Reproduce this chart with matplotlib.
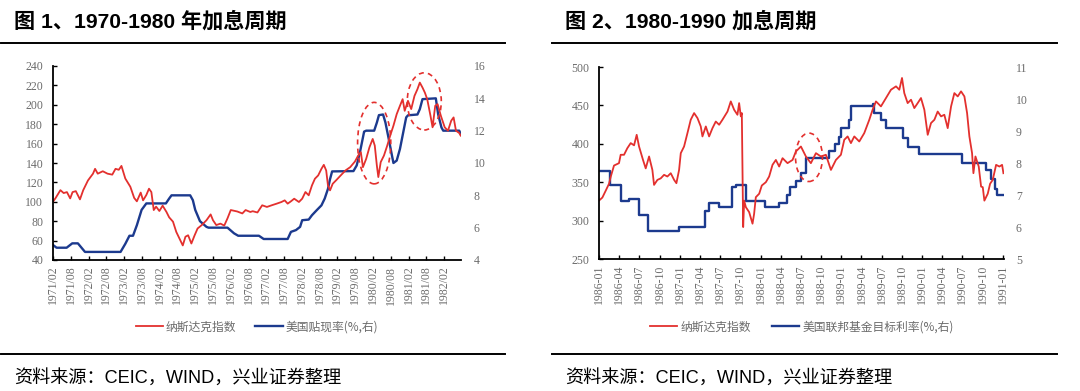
import matplotlib
matplotlib.use("Agg")
import matplotlib.pyplot as plt
from matplotlib.patches import Ellipse
from matplotlib.lines import Line2D

# ---------------- data: chart 1 (1971/02 - 1982/07), x = months since 1971/02 ----------------
c1_tick_labels = ["1971/02", "1971/08", "1972/02", "1972/08", "1973/02", "1973/08",
                  "1974/02", "1974/08", "1975/02", "1975/08", "1976/02", "1976/08",
                  "1977/02", "1977/08", "1978/02", "1978/08", "1979/02", "1979/08",
                  "1980/02", "1980/08", "1981/02", "1981/08", "1982/02"]
c1_tick_months = [0, 6, 12, 18, 24, 30, 36, 42, 48, 54, 60, 66, 72, 78, 84, 90,
                  96, 102, 108, 114, 120, 126, 132]

c1_nasdaq_m = [0, 0.9, 2.5, 3.6, 4.7, 5.8, 6.6, 7.7, 9.1, 10.2, 11.8, 13.5, 14.2, 15.1,
               16.8, 18.4, 20, 21.1, 22.2, 23.1, 24.4, 26.1, 27.4, 28.3, 29.6, 30.4,
               31.5, 32.4, 33.2, 34, 34.8, 35.9, 37, 38.3, 39.2, 40.5, 41.6, 42.7, 43.8,
               44.7, 45.6, 46.7, 47.8, 48.8, 50.2, 51.8, 53.2, 54, 55.1, 56.5, 57.8,
               58.9, 60, 62.2, 63.9, 65, 66.6, 67.4, 69, 70.6, 72.2, 73.8, 75.5, 77.1,
               78.2, 79.2, 80.3, 81.4, 83, 84.1, 85.2, 86.3, 87.4, 88.4, 89.5, 90.6,
               91.4, 92.2, 92.8, 93.5, 94.4, 95.5, 97.1, 98.7, 100.3, 101.9, 103, 103.9,
               104.6, 105.7, 106.8, 107.9, 108.6, 109.3, 109.8, 110.6, 111.7, 112.8,
               113.8, 114.9, 116, 117.1, 118, 118.7, 119.8, 120.9, 122, 123, 123.8,
               124.7, 125.5, 126.3, 127.4, 128.1, 129, 129.8, 130.9, 132.2, 133.3,
               134.4, 135.2, 136, 137.1, 137.6]
c1_nasdaq_v = [100, 104, 112, 109, 110, 103.5, 110, 111, 102.5, 112, 122, 129, 134, 129,
               131.5, 129, 128, 134, 133, 137, 124, 115.5, 104, 100.5, 109.5, 101.5,
               107, 113.5, 110, 91.5, 95, 90.5, 96, 89.5, 84, 79.5, 69, 62, 55,
               64, 65.5, 57, 65.5, 72.5, 76, 81, 87, 81, 76, 77.5, 75.5,
               83, 91.5, 90, 88, 91.5, 89.5, 90.3, 89, 96.4, 94.7, 96.4, 98.1, 99.8,
               101.5, 98.1, 100.5, 103.2, 99.8, 103.2, 110.1, 106.7, 116.9, 123.8, 127.2, 134,
               138.1, 132.3, 116.9, 111.8, 118.6, 122, 127.2, 132.3, 135.7, 141.5, 147.7, 151.1,
               135.7, 144.3, 156.2, 164.8, 157.9, 137.4, 125.5, 140.9, 147.7, 157.9,
               168.2, 178.5, 190.4, 199, 205.8, 193.8, 204.1, 195.6, 209.2, 216.1, 222.9,
               217.8, 212.6, 205.8, 188.7, 176.8, 199, 200.7, 188.7, 176.8, 173.3,
               183.6, 187, 173.3, 170.9, 168.2]

c1_rate_m = [0, 1.2, 4.6, 6.5, 8.4, 10.8, 22.8, 24.4, 25.8, 27.0, 28.3, 29.9, 31.5, 38.1,
             39.2, 40.0, 46.3, 47.2, 48.0, 49.6, 51.8, 52.5, 58.9, 61.1, 62.5, 69.5, 71.1,
             79.2, 80.3, 82, 83.4, 84.1, 86.3, 87.4, 89, 90.6, 91.7, 92.8, 93.5, 94.2,
             101.4, 102.5, 103.6, 105, 105.7, 108.4, 109.3, 110, 111.4, 112.2, 113.3,
             114.4, 114.9, 116, 117.1, 118.1, 119.2, 119.8, 123, 123.8, 124.7, 129.2,
             130, 131.1, 131.7, 137.1, 137.6]
c1_rate_v = [4.93, 4.76, 4.76, 5.03, 5.03, 4.5, 4.5, 5.0, 5.5, 5.5, 6.15, 7.1, 7.5, 7.5,
             7.8, 8.0, 8.0, 7.7, 7.1, 6.4, 6.05, 6.0, 6.0, 5.65, 5.5, 5.5, 5.3,
             5.3, 5.74, 5.85, 6.05, 6.46, 6.5, 6.77, 7.08, 7.38, 7.8, 8.4, 9.0, 9.48,
             9.5, 9.85, 10.67, 11.94, 12.0, 12.0, 12.5, 12.96, 13.0, 12.5, 11.5,
             10.46, 10.0, 10.15, 10.87, 11.8, 12.82, 12.95, 13.0, 13.33, 13.95, 14.0,
             13.0, 12.2, 12.0, 12.0, 11.8]

# ---------------- data: chart 2 (1986-01 - 1991-01), x = months since 1986-01 ----------------
c2_tick_labels = ["1986-01", "1986-04", "1986-07", "1986-10", "1987-01", "1987-04",
                  "1987-07", "1987-10", "1988-01", "1988-04", "1988-07", "1988-10",
                  "1989-01", "1989-04", "1989-07", "1989-10", "1990-01", "1990-04",
                  "1990-07", "1990-10", "1991-01"]
c2_tick_months = [0, 3, 6, 9, 12, 15, 18, 21, 24, 27, 30, 33, 36, 39, 42, 45, 48, 51,
                  54, 57, 60]

c2_nasdaq_m = [0, 0.5, 1.0, 1.49, 1.74, 2.23, 2.97, 3.22, 3.72, 4.21, 4.71, 5.21, 5.6,
               5.95, 6.54, 6.94, 7.44, 7.93, 8.18, 8.68, 9.17, 9.67, 10.16, 10.66, 11.16,
               11.5, 11.9, 12.15, 12.64, 13.14, 13.63, 14.13, 14.63, 15.12, 15.37, 15.87,
               16.36, 16.86, 17.35, 17.85, 18.34, 19.09, 19.58, 20.08, 20.57, 20.82, 21.07,
               21.22, 21.42, 21.57, 21.82, 22.31, 22.81, 23.05, 23.3, 23.8, 24.19, 24.79,
               25.28, 25.78, 26.28, 26.77, 27.27, 28.01, 28.76, 29.25, 30.0, 30.74, 31.48,
               32.23, 32.97, 33.71, 34.46, 35.2, 35.94, 36.44, 36.94, 37.43, 37.93, 38.67,
               39.41, 40.16, 40.65, 41.15, 41.89, 42.64, 43.38, 44.13, 44.62, 45.02, 45.36,
               45.86, 46.36, 46.85, 47.35, 47.84, 48.34, 48.84, 49.33, 49.83, 50.32, 50.82,
               51.31, 51.81, 52.31, 52.8, 53.3, 53.79, 54.29, 54.69, 55.03, 55.43, 55.63,
               55.93, 56.42, 56.77, 57.02, 57.26, 57.76, 58.11, 58.5, 59.0, 59.49, 59.89,
               60.09]
c2_nasdaq_v = [326, 330, 339, 348, 357, 371.7, 374.8, 385.7, 385.7, 394.3, 400.9, 398, 411.7,
               396.5, 379, 368, 383.5, 366, 346.5, 353, 355, 359.6, 357.4, 361.7, 353,
               348.7, 366, 387.8, 396.5, 413.9, 431.3, 440, 433.5, 422.6, 409.6, 422.6,
               409.6, 420.4, 429, 424.8, 431.3, 442, 455.2, 444.3, 437.8, 453, 435.7,
               440, 291.6, 326, 317.5, 311, 296, 309, 330.5, 335, 345.7, 350,
               357.4, 372.6, 379, 370.4, 381.3, 374.8, 379, 390, 396.5, 383.5, 374.8,
               387.8, 383.5, 385.7, 366, 379, 385.7, 405.2, 409.6, 400.9, 409.6, 403,
               413.9, 431.3, 444.3, 455.2, 448.7, 459.6, 470.4, 474.8, 470.4, 485.7, 466,
               453, 457.4, 446.5, 453, 459.6, 444.3, 411.7, 427, 431.3, 442, 435.7,
               437.8, 420.4, 448.7, 466, 461.7, 468.3, 461.7, 440, 409.6, 387.8, 361.7,
               383.5, 370.4, 344.3, 343.5, 326, 335, 348, 353, 372.6, 370.4, 372.6,
               361.7]

c2_rate_m = [0, 1.7, 3.2, 4.4, 6.0, 7.3, 11.9, 15.7, 16.3, 17.9, 19.8, 20.3, 21.8, 24.6,
             26.7, 27.9, 28.4, 29.3, 30.0, 30.7, 34.2, 35.0, 35.7, 35.9, 37.2, 37.4,
             40.65, 40.9, 41.9, 42.6, 45.1, 45.9, 47.6, 54.0, 57.5, 58.3, 58.8, 59.2, 60.2]
c2_rate_v = [7.75, 7.3, 6.8, 6.88, 6.38, 5.88, 6.0, 6.5, 6.75, 6.63, 7.25, 7.3, 6.81, 6.63,
             6.75, 7.0, 7.25, 7.45, 7.7, 8.15, 8.38, 8.6, 8.8, 9.09, 9.35, 9.79,
             9.84, 9.56, 9.35, 9.09, 8.78, 8.51, 8.27, 8.0, 7.78, 7.5, 7.2, 7.0, 7.0]

# ---------------- styling ----------------
W, H = 1080, 391
fig = plt.figure(figsize=(W / 100, H / 100), dpi=100)

RED = "#E3302E"
BLUE = "#1C3A8E"
GRAY = "#6b6b6b"
SERIF = ["Liberation Serif", "DejaVu Serif"]
CJK = ["Noto Sans CJK SC", "DejaVu Sans"]
TITLE_FONT = ["Liberation Sans", "Noto Sans CJK SC"]


def fx(px):
    return px / W


def fy(py):
    return 1 - py / H


def style_axes(ax, ax2, ticks, labels, xmax, lticks, rticks):
    ax.set_xlim(0, xmax)
    ax.set_xticks(ticks)
    ax.set_xticklabels(labels, rotation=90, fontsize=8.5, family=SERIF, color=GRAY)
    ax.set_yticks(lticks)
    ax.set_ylim(lticks[0], lticks[-1])
    ax.set_yticklabels([str(t) for t in lticks], fontsize=8.5, family=SERIF, color=GRAY)
    ax2.set_yticks(rticks)
    ax2.set_ylim(rticks[0], rticks[-1])
    ax2.set_yticklabels([str(t) for t in rticks], fontsize=8.5, family=SERIF, color=GRAY)
    for a in (ax, ax2):
        a.spines["top"].set_visible(False)
        a.spines["right"].set_visible(False)
        a.patch.set_visible(False)
    ax2.spines["left"].set_visible(False)
    ax2.spines["bottom"].set_visible(False)
    ax.spines["left"].set_linewidth(1.3)
    ax.spines["bottom"].set_linewidth(1.3)
    ax.tick_params(axis="both", direction="in", length=3, width=1, color="black")
    ax.tick_params(axis="y", pad=7)
    ax.tick_params(axis="x", pad=4)
    ax2.tick_params(axis="y", length=0, pad=9)


def header_footer(x0, x1, title, tx):
    fig.text(fx(tx), fy(21), title, fontsize=15.2, fontweight="bold",
             family=TITLE_FONT, ha="left", va="center", color="black")
    fig.add_artist(Line2D([fx(x0), fx(x1)], [fy(43), fy(43)], color="black", lw=1.4))
    fig.add_artist(Line2D([fx(x0), fx(x1)], [fy(354), fy(354)], color="black", lw=1.4))
    fig.text(fx(tx), fy(378), "资料来源：CEIC，WIND，兴业证券整理", fontsize=13.1,
             family=TITLE_FONT, ha="left", va="center", color="black")


# ---------------- chart 1 ----------------
ax1 = fig.add_axes([fx(53), fy(260), fx(461) - fx(53), fy(66) - fy(260)])
ax1r = ax1.twinx()
ax1.set_zorder(2)
ax1r.set_zorder(1)
l1, = ax1.plot(c1_nasdaq_m, c1_nasdaq_v, color=RED, lw=1.3)
l2, = ax1r.plot(c1_rate_m, c1_rate_v, color=BLUE, lw=1.7)
style_axes(ax1, ax1r, c1_tick_months, c1_tick_labels, 137.7,
           list(range(40, 241, 20)), list(range(4, 17, 2)))
for (cx, cy, w, h) in [(108.4, 160.5, 11.2, 84), (125.3, 203.5, 11.5, 59)]:
    ax1.add_patch(Ellipse((cx, cy), w, h, fill=False, ec=RED, lw=1.2, ls=(0, (3, 2.5))))
ax1.legend([l1, l2], ["纳斯达克指数", "美国贴现率(%,右)"], loc="center",
           bbox_to_anchor=(fx(257), fy(327)), bbox_transform=fig.transFigure,
           ncol=2, frameon=False, prop={"family": CJK, "size": 8.5},
           labelcolor=GRAY, handlelength=2.3, handletextpad=0.25, columnspacing=1.6)
header_footer(1, 505, "图 1、1970-1980 年加息周期", 14)

# ---------------- chart 2 ----------------
ax2 = fig.add_axes([fx(599), fy(259), fx(1003.5) - fx(599), fy(67) - fy(259)])
ax2r = ax2.twinx()
ax2.set_zorder(2)
ax2r.set_zorder(1)
l3, = ax2.plot(c2_nasdaq_m, c2_nasdaq_v, color=RED, lw=1.3)
l4, = ax2r.plot(c2_rate_m, c2_rate_v, color=BLUE, lw=1.7, drawstyle="steps-post")
style_axes(ax2, ax2r, c2_tick_months, c2_tick_labels, 60.1,
           list(range(250, 501, 50)), list(range(5, 12, 1)))
ax2.add_patch(Ellipse((31.2, 382.4), 4.0, 63, fill=False, ec=RED, lw=1.2, ls=(0, (3, 2.5))))
ax2.legend([l3, l4], ["纳斯达克指数", "美国联邦基金目标利率(%,右)"], loc="center",
           bbox_to_anchor=(fx(802), fy(327)), bbox_transform=fig.transFigure,
           ncol=2, frameon=False, prop={"family": CJK, "size": 8.5},
           labelcolor=GRAY, handlelength=2.3, handletextpad=0.25, columnspacing=1.8)
header_footer(552, 1057, "图 2、1980-1990 加息周期", 565)

fig.savefig("out.png", dpi=100)
